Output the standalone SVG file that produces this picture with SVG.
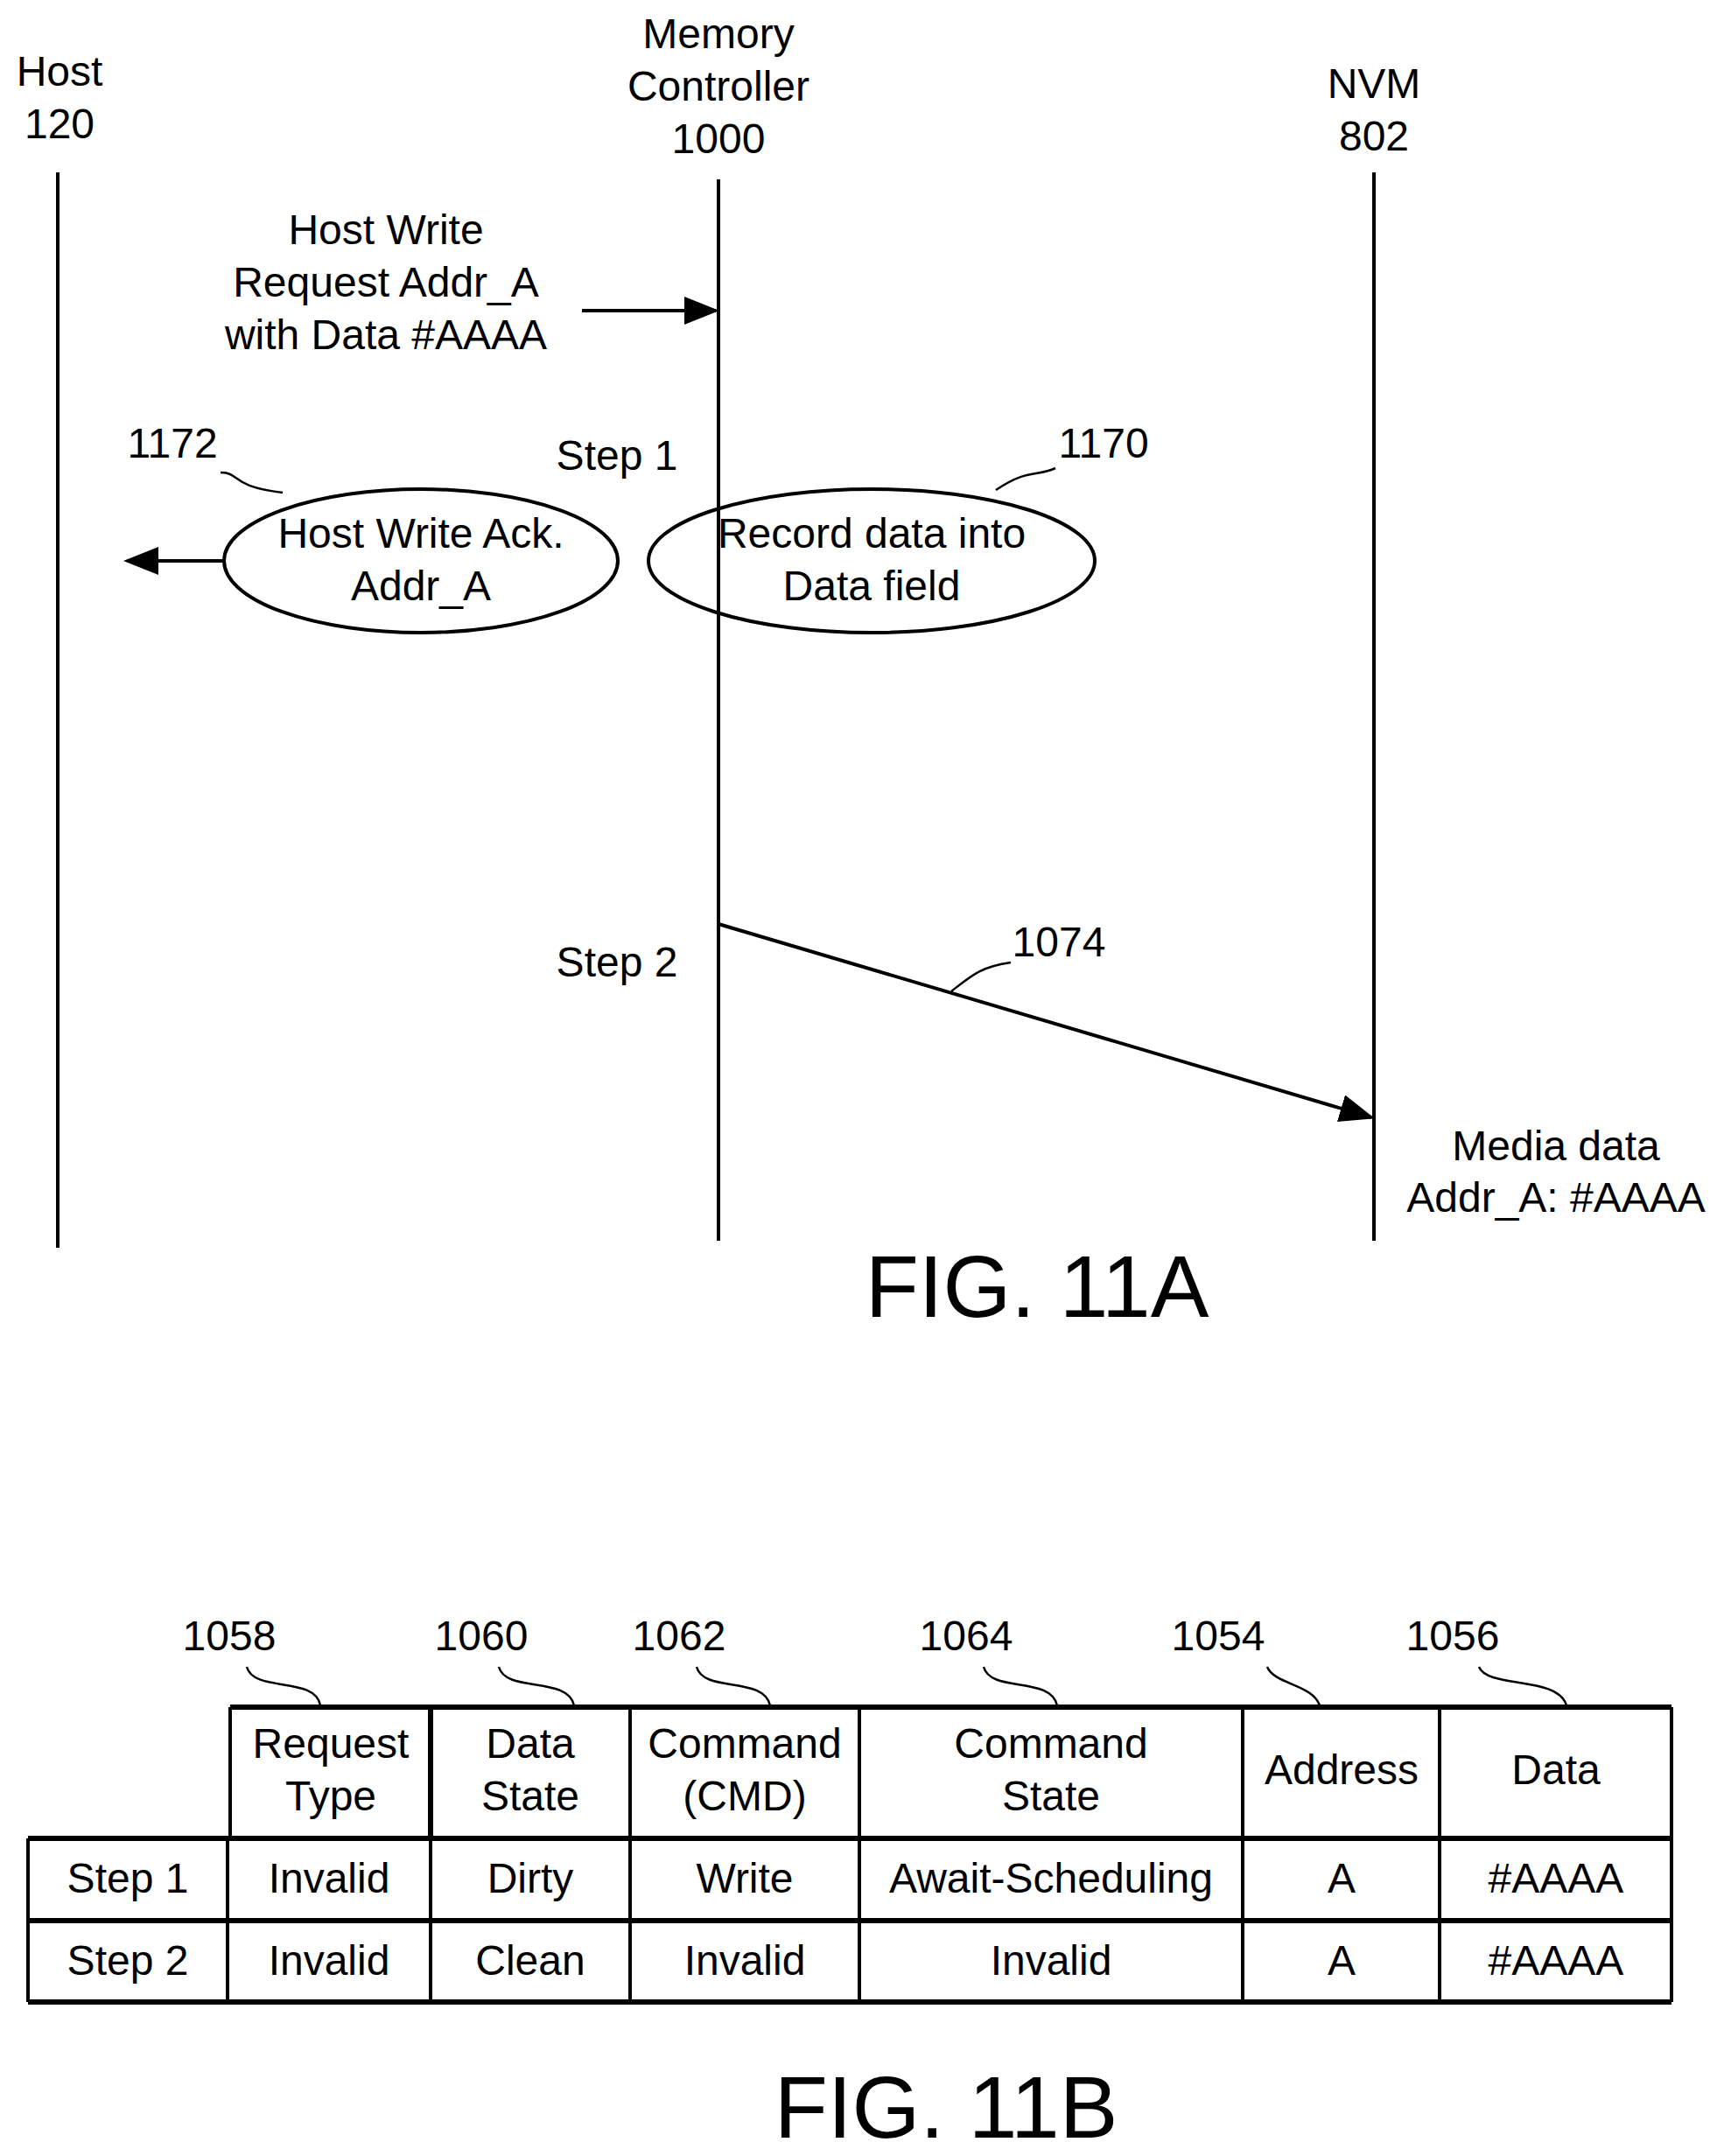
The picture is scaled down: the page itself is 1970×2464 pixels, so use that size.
<svg xmlns="http://www.w3.org/2000/svg" width="1970" height="2464" viewBox="0 0 1970 2464">
<style>
text{font-family:"Liberation Sans",Arial,sans-serif;font-size:48px;fill:#000;text-anchor:middle}
.big{font-size:100px}
.ln{stroke:#000;stroke-width:4;fill:none}
.th{stroke:#000;stroke-width:6;fill:none}
.lead{stroke:#000;stroke-width:2.5;fill:none}
</style>
<defs><marker id="ah" markerWidth="10" markerHeight="8" refX="9" refY="4" orient="auto" markerUnits="strokeWidth"><path d="M0,0L10,4L0,8z" fill="#000"/></marker></defs>
<g id="host"><text x="68" y="98">Host</text><text x="68" y="158">120</text><line class="ln" x1="66" y1="197" x2="66" y2="1426"/></g>
<g id="mc"><text x="821" y="55">Memory</text><text x="821" y="115">Controller</text><text x="821" y="175">1000</text></g>
<g id="nvm"><text x="1570" y="112">NVM</text><text x="1570" y="172">802</text><line class="ln" x1="1570" y1="197" x2="1570" y2="1418"/></g>
<g id="labels"><text x="441" y="279">Host Write</text><text x="441" y="339">Request Addr_A</text><text x="441" y="399">with Data #AAAA</text>
<text x="705" y="537">Step 1</text><text x="705" y="1116">Step 2</text>
<text x="197" y="523">1172</text><text x="1261" y="523">1170</text><text x="1210" y="1093">1074</text>
<text x="1778" y="1326">Media data</text><text x="1778" y="1385">Addr_A: #AAAA</text>
<text class="big" x="1185" y="1505">FIG. 11A</text></g>
<g id="e1172"><ellipse class="ln" cx="481" cy="641" rx="225" ry="82" fill="#fff"/><text x="481" y="626">Host Write Ack.</text><text x="481" y="686">Addr_A</text></g>
<g id="e1170"><ellipse class="ln" cx="996" cy="641" rx="255" ry="82" fill="#fff"/><text x="996" y="626">Record data into</text><text x="996" y="686">Data field</text></g>
<g id="connectors">
<line class="ln" x1="821" y1="205" x2="821" y2="1418"/>
<line class="ln" x1="665" y1="355" x2="818" y2="355" marker-end="url(#ah)"/>
<line class="ln" x1="256" y1="641" x2="145" y2="641" marker-end="url(#ah)"/>
<line class="ln" x1="821" y1="1056" x2="1567" y2="1277" marker-end="url(#ah)"/>
<path class="lead" d="M252,540 C275,540 262,556 323,563"/>
<path class="lead" d="M1206,535 C1185,545 1175,535 1138,560"/>
<path class="lead" d="M1155,1100 C1120,1105 1110,1115 1087,1133"/>
</g>
<g id="table">
<line class="th" x1="263" y1="1951" x2="1910" y2="1951"/>
<line class="th" x1="32" y1="2101" x2="1910" y2="2101"/>
<line class="th" x1="32" y1="2195" x2="1910" y2="2195"/>
<line class="th" x1="32" y1="2288" x2="1910" y2="2288"/>
<line class="ln" x1="32" y1="2101" x2="32" y2="2288"/>
<line class="ln" x1="263" y1="1951" x2="263" y2="2101"/><line class="ln" x1="260" y1="2101" x2="260" y2="2288"/>
<line class="th" x1="492" y1="1951" x2="492" y2="2101"/><line class="ln" x1="492" y1="2101" x2="492" y2="2288"/>
<line class="ln" x1="720" y1="1951" x2="720" y2="2288"/>
<line class="ln" x1="982" y1="1951" x2="982" y2="2288"/>
<line class="ln" x1="1420" y1="1951" x2="1420" y2="2288"/>
<line class="ln" x1="1645" y1="1951" x2="1645" y2="2288"/>
<line class="ln" x1="1910" y1="1951" x2="1910" y2="2288"/>
<text x="378" y="2009">Request</text><text x="378" y="2069">Type</text>
<text x="606" y="2009">Data</text><text x="606" y="2069">State</text>
<text x="851" y="2009">Command</text><text x="851" y="2069">(CMD)</text>
<text x="1201" y="2009">Command</text><text x="1201" y="2069">State</text>
<text x="1533" y="2039">Address</text><text x="1778" y="2039">Data</text>
<text x="146" y="2163">Step 1</text><text x="376" y="2163">Invalid</text><text x="606" y="2163">Dirty</text><text x="851" y="2163">Write</text><text x="1201" y="2163">Await-Scheduling</text><text x="1533" y="2163">A</text><text x="1778" y="2163">#AAAA</text>
<text x="146" y="2257">Step 2</text><text x="376" y="2257">Invalid</text><text x="606" y="2257">Clean</text><text x="851" y="2257">Invalid</text><text x="1201" y="2257">Invalid</text><text x="1533" y="2257">A</text><text x="1778" y="2257">#AAAA</text>
<text x="262" y="1886">1058</text><text x="550" y="1886">1060</text><text x="776" y="1886">1062</text><text x="1104" y="1886">1064</text><text x="1392" y="1886">1054</text><text x="1660" y="1886">1056</text>
<path class="lead" d="M282,1905 C290,1935 360,1915 366,1949"/>
<path class="lead" d="M570,1905 C578,1935 648,1915 656,1949"/>
<path class="lead" d="M796,1905 C804,1935 872,1915 880,1949"/>
<path class="lead" d="M1124,1905 C1132,1935 1200,1915 1208,1949"/>
<path class="lead" d="M1448,1905 C1456,1925 1500,1925 1508,1949"/>
<path class="lead" d="M1690,1905 C1700,1930 1780,1915 1790,1949"/>
<text class="big" x="1081" y="2443">FIG. 11B</text>
</g>
</svg>
